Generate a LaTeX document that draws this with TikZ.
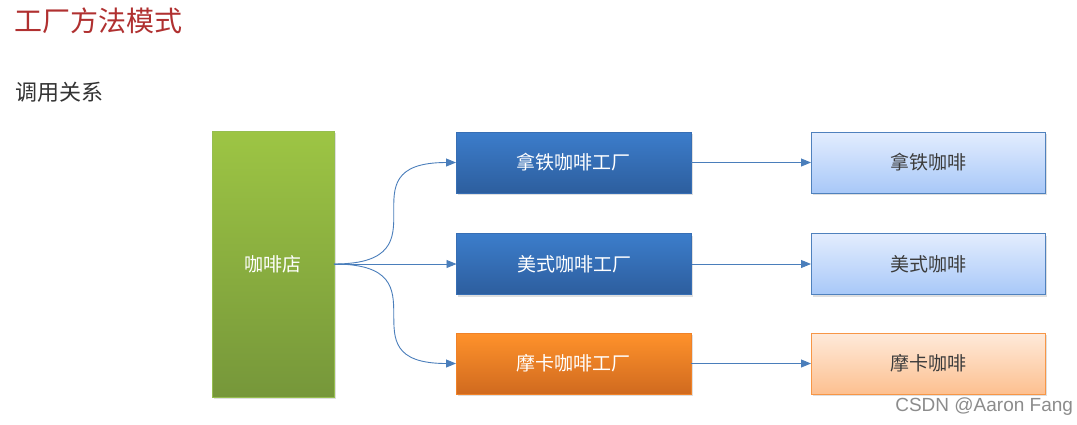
\documentclass[tikz,border=0pt]{standalone}
\usepackage{fontspec}
\setmainfont{Noto Sans CJK SC}
\newfontfamily\latinfont{Liberation Sans}
\usetikzlibrary{arrows.meta,shadows}
\definecolor{titlered}{HTML}{B03030}
\definecolor{subgray}{HTML}{333333}
\definecolor{arrowblue}{HTML}{4A7EBB}
\begin{document}
\begin{tikzpicture}[x=1pt,y=-1pt,
  every node/.style={inner sep=0pt,outer sep=0pt},
  boxshadow/.style={drop shadow={opacity=0.25,shadow xshift=1.5pt,shadow yshift=-2pt}},
  shopbox/.style={boxshadow,draw={rgb,255:red,150;green,190;blue,80},line width=0.8pt,
    top color={rgb,255:red,157;green,197;blue,68},bottom color={rgb,255:red,118;green,151;blue,58},
    minimum width=122pt,minimum height=266pt,text=white,font=\fontsize{19pt}{22pt}\selectfont},
  factbox/.style={boxshadow,draw={rgb,255:red,55;green,110;blue,180},line width=0.6pt,
    top color={rgb,255:red,60;green,125;blue,203},bottom color={rgb,255:red,45;green,94;blue,158},
    minimum width=235pt,minimum height=61pt,text=white,font=\fontsize{19pt}{22pt}\selectfont},
  orangebox/.style={boxshadow,draw={rgb,255:red,240;green,130;blue,40},line width=0.6pt,
    top color={rgb,255:red,255;green,146;blue,43},bottom color={rgb,255:red,208;green,106;blue,31},
    minimum width=235pt,minimum height=61pt,text=white,font=\fontsize{19pt}{22pt}\selectfont},
  prodbox/.style={boxshadow,draw={rgb,255:red,79;green,129;blue,189},line width=0.8pt,
    top color={rgb,255:red,227;green,237;blue,254},bottom color={rgb,255:red,168;green,200;blue,248},
    minimum width=234pt,minimum height=61pt,text={rgb,255:red,60;green,60;blue,60},font=\fontsize{19pt}{22pt}\selectfont},
  prodorange/.style={boxshadow,draw={rgb,255:red,247;green,150;blue,70},line width=0.8pt,
    top color={rgb,255:red,254;green,234;blue,218},bottom color={rgb,255:red,253;green,192;blue,144},
    minimum width=234pt,minimum height=61pt,text={rgb,255:red,60;green,60;blue,60},font=\fontsize{19pt}{22pt}\selectfont},
  conn/.style={draw=arrowblue,line width=0.9pt,-{Triangle[length=10pt,width=8pt]}},
]
\useasboundingbox[fill=white] (0,0) rectangle (1077,424);
\node[anchor=west,text=titlered,font=\fontsize{28pt}{32pt}\selectfont] (title) at (15,21) {工厂方法模式};
\node[anchor=west,text=subgray,font=\fontsize{22pt}{26pt}\selectfont] (sub) at (16,92) {调用关系};

\node[shopbox] (shop) at (273,264) {咖啡店};

\node[factbox] (f1) at (573.5,162.5) {拿铁咖啡工厂};
\node[factbox] (f2) at (574,264) {美式咖啡工厂};
\node[orangebox] (f3) at (573.5,363.5) {摩卡咖啡工厂};

\node[prodbox] (p1) at (928,162.5) {拿铁咖啡};
\node[prodbox] (p2) at (928,264) {美式咖啡};
\node[prodorange] (p3) at (928,363.5) {摩卡咖啡};

\draw[conn] (shop.east) to[out=0,in=180,looseness=1.9] (f1.west);
\draw[conn] (shop.east) -- (f2.west);
\draw[conn] (shop.east) to[out=0,in=180,looseness=1.9] (f3.west);

\draw[conn] (f1.east) -- (p1.west);
\draw[conn] (f2.east) -- (p2.west);
\draw[conn] (f3.east) -- (p3.west);

\node[anchor=east,text=black!45,font=\latinfont\fontsize{19pt}{22pt}\selectfont] (wm) at (1073,407) {CSDN @Aaron Fang};
\end{tikzpicture}
\end{document}
